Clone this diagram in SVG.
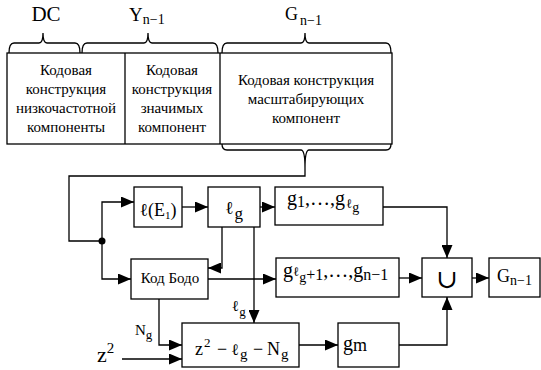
<svg xmlns="http://www.w3.org/2000/svg" width="541" height="370" viewBox="0 0 541 370" font-family="'Liberation Serif', 'DejaVu Serif', 'Times New Roman', serif">
<defs>
<marker id="ah" markerUnits="userSpaceOnUse" markerWidth="13" markerHeight="11" refX="13" refY="5.5" orient="auto">
<path d="M0,0 L13,5.5 L0,11 z" fill="#000"/>
</marker>
<style>
.box{fill:#fff;stroke:#000;stroke-width:1.3}
.ln{fill:none;stroke:#000;stroke-width:1.3}
.ar{fill:none;stroke:#000;stroke-width:1.3;marker-end:url(#ah)}
.tb{font-size:15px;text-anchor:middle}
.ser{font-family:"Liberation Serif",serif}
</style>
</defs>
<rect width="541" height="370" fill="#fff"/>

<g id="table">
<rect class="box" x="7" y="53" width="385" height="91"/>
<line class="ln" x1="125" y1="53" x2="125" y2="144"/>
<line class="ln" x1="220" y1="53" x2="220" y2="144"/>
<path class="ln" d="M9,53 Q9,43 14,43 H39 Q43,43 43,33 Q43,43 47,43 H75 Q80,43 80,53"/>
<path class="ln" d="M82,53 Q82,43 87,43 H144 Q148,43 148,33 Q148,43 152,43 H213 Q218,43 218,53"/>
<path class="ln" d="M222,53 Q222,43 227,43 H301 Q305,43 305,33 Q305,43 309,43 H386 Q391,43 391,53"/>
<path class="ln" d="M222,144 Q222,150 227,150 H301 Q305,150 305,168 Q305,150 309,150 H386 Q391,150 391,144"/>
<text class="ser" x="46" y="21" font-size="21" text-anchor="middle">DC</text>
<text x="129" y="21" font-size="19">Y<tspan font-size="14" dy="3">n−1</tspan></text>
<text x="285" y="20" font-size="18">G<tspan font-size="14" dx="2" dy="5">n−1</tspan></text>
<text class="tb" x="66" y="75">Кодовая</text>
<text class="tb" x="66" y="94">конструкция</text>
<text class="tb" x="66" y="113">низкочастотной</text>
<text class="tb" x="66" y="132">компоненты</text>
<text class="tb" x="172" y="75">Кодовая</text>
<text class="tb" x="172" y="94">конструкция</text>
<text class="tb" x="172" y="113">значимых</text>
<text class="tb" x="172" y="132">компонент</text>
<text class="tb" x="306" y="85">Кодовая конструкция</text>
<text class="tb" x="306" y="104">масштабирующих</text>
<text class="tb" x="306" y="123">компонент</text>
</g>

<g id="connectors">
<path class="ln" d="M305,168 V176 H69 V241 H102"/>
<circle cx="102" cy="241" r="3.5" fill="#000"/>
<path class="ar" d="M102,241 V202 H134"/>
<path class="ar" d="M102,241 V279 H131"/>
<path class="ar" d="M182,207 H208"/>
<path class="ar" d="M260,207 H275"/>
<path class="ar" d="M383,207 H447 V258"/>
<path class="ar" d="M222,227 V268 H208"/>
<path class="ar" d="M254,227 V323"/>
<path class="ar" d="M208,279 H276"/>
<path class="ar" d="M399,278 H422"/>
<path class="ar" d="M472,278 H489"/>
<path class="ar" d="M159,299 V345 H182"/>
<path class="ar" d="M122,359 H182"/>
<path class="ar" d="M299,345 H338"/>
<path class="ar" d="M399,345 H447 V297"/>
</g>

<g id="labels">
<text x="232" y="311" font-size="15">ℓ<tspan font-size="13" dy="5">g</tspan></text>
<text x="135" y="335" font-size="15">N<tspan font-size="13" dy="4">g</tspan></text>
<text x="97" y="362" font-size="22">z<tspan font-size="15" dy="-9">2</tspan></text>
</g>

<g id="n-lE1">
<rect class="box" x="134" y="187" width="48" height="40"/>
<text x="158" y="216" font-size="18" text-anchor="middle">ℓ(E<tspan font-size="11" dy="3">1</tspan><tspan dy="-3">)</tspan></text>
</g>
<g id="n-lg">
<rect class="box" x="208" y="187" width="52" height="40"/>
<text x="234" y="214" font-size="18" text-anchor="middle">ℓ<tspan font-size="17" dx="1" dy="5">g</tspan></text>
</g>
<g id="n-g1">
<rect class="box" x="275" y="187" width="108" height="38"/>
<text x="287" y="205" font-size="20">g<tspan font-size="16" dy="2">1</tspan><tspan dy="-2">,…,g</tspan><tspan font-size="13" dx="1" dy="3">ℓ</tspan><tspan font-size="14" dy="4">g</tspan></text>
</g>
<g id="n-bodo">
<rect class="box" x="131" y="259" width="77" height="40"/>
<text x="170" y="283" font-size="15" text-anchor="middle">Код Бодо</text>
</g>
<g id="n-g2">
<rect class="box" x="276" y="258" width="123" height="39"/>
<text x="283" y="277" font-size="20">g<tspan font-size="13" dy="-1">ℓ</tspan><tspan font-size="14" dy="6">g</tspan><tspan font-size="16" dy="-2">+1</tspan><tspan font-size="20" dy="-3">,…,g</tspan><tspan font-size="16" dy="3">n−1</tspan></text>
</g>
<g id="n-union">
<rect class="box" x="422" y="258" width="50" height="39"/>
<text x="447" y="288" font-size="26" text-anchor="middle">∪</text>
</g>
<g id="n-G">
<rect class="box" x="489" y="258" width="51" height="39"/>
<text x="497" y="282" font-size="18">G<tspan font-size="14" dy="3">n−1</tspan></text>
</g>
<g id="n-z">
<rect class="box" x="182" y="323" width="117" height="44"/>
<text y="355" font-size="18"><tspan x="195">z</tspan><tspan x="204" y="347" font-size="13">2</tspan><tspan x="217" y="355">−</tspan><tspan x="231" y="355" font-size="16">ℓ</tspan><tspan x="240" y="359" font-size="15">g</tspan><tspan x="253" y="355">−</tspan><tspan x="267" y="355">N</tspan><tspan x="281" y="359" font-size="15">g</tspan></text>
</g>
<g id="n-gm">
<rect class="box" x="338" y="323" width="61" height="44"/>
<text x="343" y="350" font-size="20">g<tspan font-size="18" dy="1">m</tspan></text>
</g>
</svg>
